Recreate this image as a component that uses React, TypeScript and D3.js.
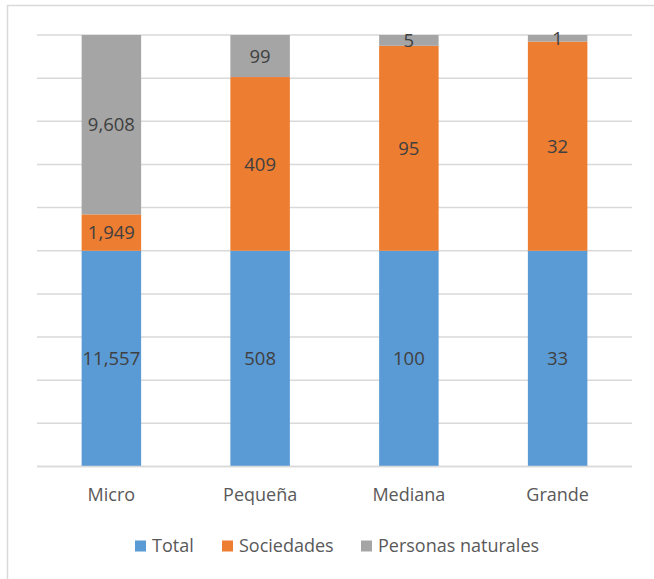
import React, { useEffect, useRef } from 'react'
import * as d3 from 'd3'

const categories = ['Micro', 'Pequeña', 'Mediana', 'Grande']
const seriesNames = ['Total', 'Sociedades', 'Personas naturales']
const total = [11557, 508, 100, 33]
const sociedades = [1949, 409, 95, 32]
const personas = [9608, 99, 5, 1]
const colors = ['#5B9BD5', '#ED7D31', '#A5A5A5']
const gridTicks = [0, 0.1, 0.2, 0.3, 0.4, 0.5, 0.6, 0.7, 0.8, 0.9, 1]

const W = 654
const H = 579
const FONT = '"Open Sans", "Liberation Sans", sans-serif'

function drawChart(node: SVGSVGElement) {
    const svg = d3.select(node)
    svg.selectAll('*').remove()

    const rows = categories.map((c, i) => ({
        cat: c,
        Total: total[i],
        Sociedades: sociedades[i],
        'Personas naturales': personas[i]
    }))

    const stacked = d3.stack<any>()
        .keys(seriesNames)
        .offset(d3.stackOffsetExpand)(rows)

    const x = d3.scaleBand()
        .domain(categories)
        .range([37, 632])
        .paddingInner(0.6)
        .paddingOuter(0.3)

    const y = d3.scaleLinear()
        .domain([0, 1])
        .range([466.5, 35])

    // chart border (only top and left visible)
    svg.append('rect')
        .attr('x', 7.5).attr('y', 5.5)
        .attr('width', 700).attr('height', 700)
        .attr('fill', 'white')
        .attr('stroke', '#D9D9D9')
        .attr('stroke-width', 1.5)

    // gridlines
    svg.append('g')
        .selectAll('line')
        .data(gridTicks)
        .join('line')
        .attr('x1', 37).attr('x2', 632)
        .attr('y1', d => y(d)).attr('y2', d => y(d))
        .attr('stroke', '#D9D9D9')
        .attr('stroke-width', 1.5)

    const layers = svg.append('g')
        .selectAll('g')
        .data(stacked)
        .join('g')
        .attr('fill', (d, i) => colors[i])

    layers.selectAll('rect')
        .data(d => d)
        .join('rect')
        .attr('x', (d: any) => x(d.data.cat)!)
        .attr('width', x.bandwidth())
        .attr('y', d => y(d[1]))
        .attr('height', d => y(d[0]) - y(d[1]))

    // data labels
    const labels = svg.append('g')
    stacked.forEach(layer => {
        layer.forEach((d: any) => {
            labels.append('text')
                .attr('x', x(d.data.cat)! + x.bandwidth() / 2)
                .attr('y', y((d[0] + d[1]) / 2))
                .attr('dy', '0.36em')
                .attr('text-anchor', 'middle')
                .attr('font-family', FONT)
                .attr('font-size', 18.5)
                .attr('fill', '#404040')
                .text(d3.format(',')(d.data[layer.key]))
        })
    })

    // axis line
    svg.append('line')
        .attr('x1', 37).attr('x2', 632)
        .attr('y1', y(0)).attr('y2', y(0))
        .attr('stroke', '#D9D9D9')
        .attr('stroke-width', 1.5)

    // category labels
    svg.append('g')
        .selectAll('text')
        .data(categories)
        .join('text')
        .attr('x', d => x(d)! + x.bandwidth() / 2)
        .attr('y', 495)
        .attr('dy', '0.36em')
        .attr('text-anchor', 'middle')
        .attr('font-family', FONT)
        .attr('font-size', 18)
        .attr('fill', '#595959')
        .text(d => d)

    // legend
    const legendX = [135, 222, 361]
    const legend = svg.append('g')
        .selectAll('g')
        .data(seriesNames)
        .join('g')
        .attr('transform', (d, i) => `translate(${legendX[i]}, 546)`)

    legend.append('rect')
        .attr('x', 0).attr('y', -5.5)
        .attr('width', 11).attr('height', 11)
        .attr('fill', (d, i) => colors[i])

    legend.append('text')
        .attr('x', 17)
        .attr('dy', '0.36em')
        .attr('font-family', FONT)
        .attr('font-size', 18)
        .attr('fill', '#595959')
        .text(d => d)
}

export default function App() {
    const ref = useRef<SVGSVGElement>(null)

    useEffect(() => {
        if (ref.current) drawChart(ref.current)
    }, [])

    return (
        <svg
            ref={ref}
            width={W}
            height={H}
            style={{ position: 'absolute', left: 0, top: 0, background: 'white' }}
        />
    )
}
